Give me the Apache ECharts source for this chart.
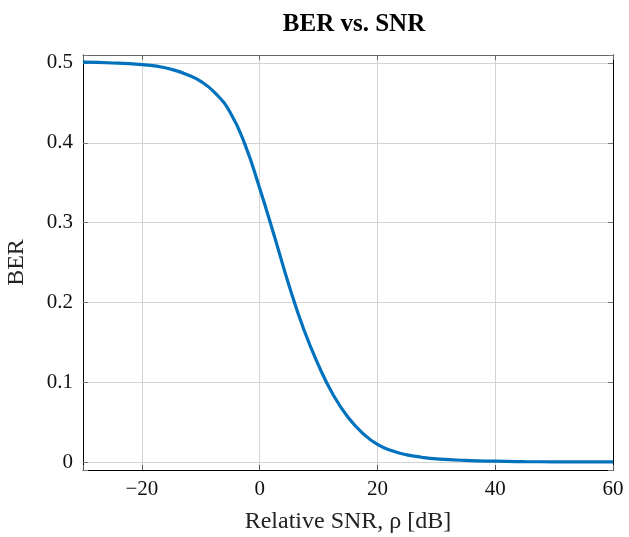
<!DOCTYPE html>
<html>
<head>
<meta charset="utf-8">
<script src="https://cdn.jsdelivr.net/npm/echarts@6/dist/echarts.min.js"></script>
<style>html,body{margin:0;padding:0;background:#fff}#c{width:629px;height:537px}</style>
</head>
<body>
<div id="c"></div>
<script>
const snr = [-30, -25, -20, -17.5, -15, -12.5, -10, -7.5, -5, -2.5, 0, 2.5, 5, 7.5, 10, 12.5, 15, 17.5, 20, 22.5, 25, 27.5, 30, 35, 40, 45, 50, 55, 60];
const ber = [0.501, 0.500, 0.498, 0.496, 0.492, 0.486, 0.477, 0.462, 0.438, 0.398, 0.343, 0.283, 0.221, 0.166, 0.121, 0.084, 0.056, 0.036, 0.022, 0.014, 0.009, 0.006, 0.004, 0.002, 0.001, 0.0005, 0.0002, 0.0001, 0.0001];
const xTicks = [-20, 0, 20, 40, 60];
const yTicks = [0, 0.1, 0.2, 0.3, 0.4, 0.5];
const titleText = 'BER vs. SNR';
const xName = 'Relative SNR, \u03c1 [dB]';
const yName = 'BER';

const font = 'Liberation Serif';
const near = (v, arr) => arr.some(t => Math.abs(t - v) < 1e-9);
const chart = echarts.init(document.getElementById('c'), null, {renderer: 'canvas'});
const commonLine = {show: true, onZero: false, lineStyle: {color: '#000', width: 1}};
chart.setOption({
  animation: false,
  backgroundColor: '#fff',
  title: {
    text: titleText, left: 349, top: 7, textAlign: 'center',
    textStyle: {fontFamily: font, fontWeight: 'bold', fontSize: 25, color: '#000'}
  },
  grid: {left: 83, right: 16, top: 55, bottom: 67, containLabel: false, outerBoundsMode: 'none'},
  xAxis: [{
    type: 'value', min: -30, max: 60, splitNumber: 5, position: 'bottom',
    name: xName, nameLocation: 'middle', nameGap: 40,
    nameTextStyle: {fontFamily: font, fontSize: 24, color: '#222'},
    axisLine: commonLine,
    axisTick: {show: true, inside: true, length: 5, lineStyle: {color: '#555'}},
    axisLabel: {fontFamily: font, fontSize: 21, color: '#111', margin: 9,
      formatter: v => near(v, xTicks) ? String(v).replace('-', '\u2212') : ''},
    splitLine: {show: true, lineStyle: {color: '#d3d3d3', width: 1}}
  }, {
    type: 'value', min: -30, max: 60, splitNumber: 5, position: 'top',
    axisLine: {show: true, onZero: false, lineStyle: {color: '#666', width: 1}},
    axisTick: {show: true, inside: true, length: 5, lineStyle: {color: '#666'}},
    axisLabel: {show: false}, splitLine: {show: false}
  }],
  yAxis: [{
    type: 'value', min: -0.01, max: 0.51, splitNumber: 5, position: 'left',
    name: yName, nameLocation: 'middle', nameGap: 54, nameRotate: 90,
    nameTextStyle: {fontFamily: font, fontSize: 24, color: '#222'},
    axisLine: commonLine,
    axisTick: {show: true, inside: true, length: 5, lineStyle: {color: '#777'}},
    axisLabel: {fontFamily: font, fontSize: 21, color: '#111', margin: 10,
      formatter: v => near(v, yTicks) ? String(+v.toFixed(2)) : ''},
    splitLine: {show: true, lineStyle: {color: '#d3d3d3', width: 1}}
  }, {
    type: 'value', min: -0.01, max: 0.51, splitNumber: 5, position: 'right',
    axisLine: commonLine,
    axisTick: {show: true, inside: true, length: 5, lineStyle: {color: '#777'}},
    axisLabel: {show: false}, splitLine: {show: false}
  }],
  series: [{
    type: 'line', xAxisIndex: 0, yAxisIndex: 0,
    data: snr.map((x, i) => [x, ber[i]]),
    smooth: 0.5, showSymbol: false, symbol: 'none',
    lineStyle: {color: '#0072BD', width: 3.2}
  }]
});
</script>
</body>
</html>
